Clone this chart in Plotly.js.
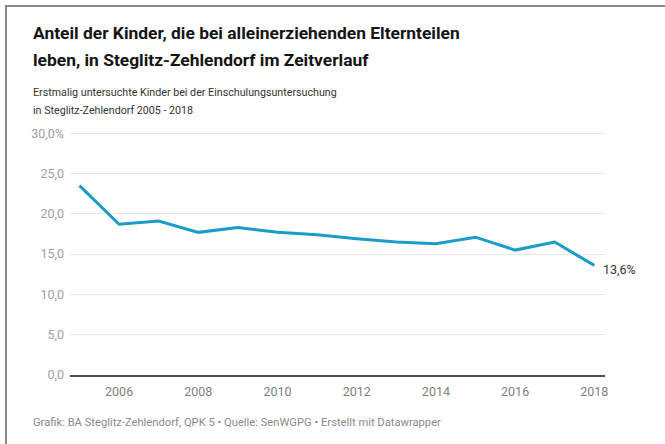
<!DOCTYPE html>
<html>
<head>
<meta charset="utf-8">
<script src="https://cdn.plot.ly/plotly-3.0.1.min.js"></script>
<style>
  html, body { margin: 0; padding: 0; background: #fff; }
  #wrap { position: relative; width: 665px; height: 444px; overflow: hidden; }
  #chart { position: absolute; left: 0; top: 0; width: 665px; height: 444px; }
  #frame { position: absolute; left: 5px; top: 5px; width: 660px; height: 439px;
           border-top: 2px solid #8a8a8a; border-left: 2px solid #8a8a8a; pointer-events: none; }
</style>
</head>
<body>
<div id="wrap">
  <div id="chart"></div>
  <div id="frame"></div>
</div>
<script>
// Data
const years = [2005, 2006, 2007, 2008, 2009, 2010, 2011, 2012, 2013, 2014, 2015, 2016, 2017, 2018];
const shares = [23.5, 18.7, 19.1, 17.7, 18.3, 17.7, 17.4, 16.9, 16.5, 16.3, 17.1, 15.5, 16.5, 13.6];
const yTickVals = [0, 5, 10, 15, 20, 25, 30];
const yTickText = ["0,0", "5,0", "10,0", "15,0", "20,0", "25,0", "30,0%"];
const xTickVals = [2006, 2008, 2010, 2012, 2014, 2016, 2018];
const xTickText = ["2006", "2008", "2010", "2012", "2014", "2016", "2018"];
const titleLines = ["Anteil der Kinder, die bei alleinerziehenden Elternteilen",
                    "leben, in Steglitz-Zehlendorf im Zeitverlauf"];
const subtitleLines = ["Erstmalig untersuchte Kinder bei der Einschulungsuntersuchung",
                       "in Steglitz-Zehlendorf 2005 - 2018"];
const footerText = "Grafik: BA Steglitz-Zehlendorf, QPK 5 • Quelle: SenWGPG • Erstellt mit Datawrapper";
const lastLabel = "13,6%";

const F = 'Roboto, sans-serif';

const trace = {
  x: years, y: shares, type: 'scatter', mode: 'lines',
  line: { color: '#1a9bc9', width: 3 },
  hoverinfo: 'skip'
};

function textLine(text, y, size, color, bold) {
  return { xref: 'paper', yref: 'paper', x: -0.073, y: y, xanchor: 'left', yanchor: 'middle',
           text: bold ? '<b>' + text + '</b>' : text, showarrow: false, align: 'left',
           font: { family: F, size: size, color: color } };
}

const layout = {
  width: 665, height: 444,
  margin: { l: 70, r: 60, t: 130, b: 69 },
  paper_bgcolor: '#ffffff', plot_bgcolor: '#ffffff',
  showlegend: false,
  font: { family: F },
  xaxis: {
    range: [2004.76, 2018.27],
    tickvals: xTickVals, ticktext: xTickText,
    showgrid: false, zeroline: false,
    showline: true, linecolor: '#4a4a4a', linewidth: 2,
    ticks: '', ticklabelstandoff: 4,
    tickfont: { family: F, size: 12.5, color: '#808080' }
  },
  yaxis: {
    range: [0, 30.4],
    tickvals: yTickVals, ticktext: yTickText,
    showgrid: true, gridcolor: '#e8e8e8', gridwidth: 1,
    zeroline: false, showline: false,
    ticks: '', ticklabelstandoff: 5,
    tickfont: { family: F, size: 12.5, color: '#a0a0a0' }
  },
  annotations: [
    textLine(titleLines[0], 1.3959, 17.4, '#141414', true),
    textLine(titleLines[1], 1.2857, 17.4, '#141414', true),
    textLine(subtitleLines[0], 1.1551, 10.7, '#333333', false),
    textLine(subtitleLines[1], 1.0816, 10.7, '#333333', false),
    textLine(footerText, -0.1959, 11.2, '#8a8a8a', false),
    { xref: 'x', yref: 'y', x: years[years.length - 1], y: shares[shares.length - 1],
      xanchor: 'left', yanchor: 'middle', xshift: 7, yshift: -4,
      text: lastLabel, showarrow: false,
      font: { family: F, size: 12.5, color: '#333' } }
  ]
};

Plotly.newPlot('chart', [trace], layout, { displayModeBar: false, staticPlot: true });
</script>
</body>
</html>
